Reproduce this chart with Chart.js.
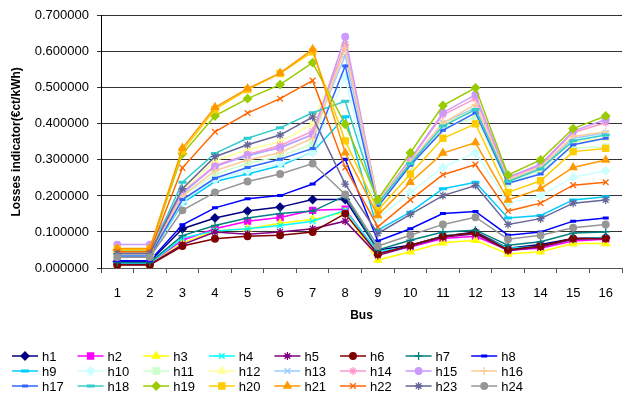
<!DOCTYPE html>
<html lang="en">
<head>
<meta charset="UTF-8">
<title>Losses indicator by bus</title>
<script src="https://cdn.jsdelivr.net/npm/chart.js"></script>
<style>
    html, body { margin: 0; padding: 0; overflow: hidden; background: #fff; }
    #chart { display: block; }
</style>
</head>
<body>
<canvas id="chart" width="629" height="397"></canvas>
<script>
    // Bus numbers (x axis)
    const buses = ['1', '2', '3', '4', '5', '6', '7', '8', '9', '10', '11', '12', '13', '14', '15', '16'];
    const yTicks = [0, 0.1, 0.2, 0.3, 0.4, 0.5, 0.6, 0.7];

    // Losses indicator per hour (€ct/kWh)
    const h1  = [0.018, 0.018, 0.109, 0.139, 0.158, 0.169, 0.190, 0.190, 0.050, 0.063, 0.088, 0.100, 0.055, 0.065, 0.082, 0.085];
    const h2  = [0.013, 0.013, 0.077, 0.109, 0.130, 0.140, 0.160, 0.163, 0.042, 0.058, 0.082, 0.088, 0.050, 0.055, 0.075, 0.080];
    const h3  = [0.010, 0.010, 0.069, 0.103, 0.109, 0.124, 0.135, 0.155, 0.022, 0.045, 0.070, 0.077, 0.039, 0.045, 0.068, 0.068];
    const h4  = [0.013, 0.013, 0.083, 0.103, 0.109, 0.118, 0.130, 0.160, 0.045, 0.060, 0.090, 0.095, 0.055, 0.060, 0.080, 0.085];
    const h5  = [0.010, 0.010, 0.065, 0.100, 0.094, 0.100, 0.109, 0.130, 0.035, 0.060, 0.085, 0.095, 0.048, 0.058, 0.080, 0.082];
    const h6  = [0.008, 0.008, 0.061, 0.081, 0.088, 0.091, 0.100, 0.151, 0.039, 0.063, 0.088, 0.098, 0.051, 0.061, 0.082, 0.082];
    const h7  = [0.015, 0.015, 0.090, 0.118, 0.139, 0.151, 0.158, 0.200, 0.050, 0.077, 0.100, 0.105, 0.063, 0.073, 0.097, 0.100];
    const h8  = [0.020, 0.020, 0.120, 0.167, 0.192, 0.201, 0.233, 0.302, 0.075, 0.109, 0.151, 0.157, 0.091, 0.100, 0.130, 0.139];
    const h9  = [0.033, 0.033, 0.180, 0.240, 0.261, 0.284, 0.322, 0.420, 0.105, 0.155, 0.220, 0.238, 0.139, 0.146, 0.189, 0.198];
    const h10 = [0.035, 0.035, 0.185, 0.245, 0.270, 0.290, 0.320, 0.530, 0.138, 0.210, 0.279, 0.320, 0.180, 0.200, 0.252, 0.270];
    const h11 = [0.038, 0.038, 0.200, 0.260, 0.290, 0.310, 0.344, 0.620, 0.175, 0.280, 0.390, 0.417, 0.235, 0.270, 0.334, 0.336];
    const h12 = [0.040, 0.040, 0.215, 0.298, 0.328, 0.350, 0.400, 0.625, 0.180, 0.285, 0.400, 0.440, 0.240, 0.275, 0.350, 0.360];
    const h13 = [0.038, 0.038, 0.205, 0.284, 0.310, 0.335, 0.370, 0.590, 0.180, 0.290, 0.403, 0.445, 0.240, 0.278, 0.360, 0.375];
    const h14 = [0.040, 0.040, 0.210, 0.284, 0.315, 0.340, 0.380, 0.620, 0.185, 0.300, 0.425, 0.470, 0.250, 0.285, 0.376, 0.403];
    const h15 = [0.065, 0.065, 0.210, 0.281, 0.314, 0.333, 0.371, 0.642, 0.185, 0.302, 0.431, 0.481, 0.252, 0.288, 0.380, 0.412];
    const h16 = [0.038, 0.038, 0.200, 0.270, 0.300, 0.320, 0.360, 0.610, 0.185, 0.295, 0.403, 0.454, 0.245, 0.280, 0.365, 0.378];
    const h17 = [0.033, 0.033, 0.190, 0.249, 0.279, 0.302, 0.332, 0.561, 0.170, 0.285, 0.382, 0.431, 0.235, 0.261, 0.342, 0.360];
    const h18 = [0.040, 0.040, 0.238, 0.318, 0.360, 0.389, 0.431, 0.463, 0.180, 0.290, 0.394, 0.440, 0.240, 0.275, 0.353, 0.369];
    const h19 = [0.050, 0.050, 0.317, 0.422, 0.470, 0.509, 0.570, 0.399, 0.190, 0.320, 0.451, 0.500, 0.258, 0.300, 0.387, 0.422];
    const h20 = [0.052, 0.052, 0.325, 0.440, 0.495, 0.540, 0.600, 0.353, 0.160, 0.261, 0.360, 0.400, 0.210, 0.242, 0.323, 0.332];
    const h21 = [0.054, 0.054, 0.333, 0.446, 0.498, 0.541, 0.607, 0.320, 0.146, 0.238, 0.319, 0.348, 0.189, 0.220, 0.279, 0.300];
    const h22 = [0.045, 0.045, 0.278, 0.378, 0.430, 0.470, 0.520, 0.279, 0.114, 0.189, 0.259, 0.287, 0.158, 0.180, 0.230, 0.238];
    const h23 = [0.040, 0.040, 0.220, 0.309, 0.342, 0.369, 0.419, 0.233, 0.096, 0.149, 0.201, 0.229, 0.121, 0.137, 0.180, 0.189];
    const h24 = [0.030, 0.030, 0.160, 0.210, 0.240, 0.261, 0.290, 0.204, 0.061, 0.091, 0.121, 0.141, 0.080, 0.091, 0.112, 0.121];

    const seriesNames = ['h1', 'h2', 'h3', 'h4', 'h5', 'h6', 'h7', 'h8', 'h9', 'h10', 'h11', 'h12',
                         'h13', 'h14', 'h15', 'h16', 'h17', 'h18', 'h19', 'h20', 'h21', 'h22', 'h23', 'h24'];
    const seriesValues = [h1, h2, h3, h4, h5, h6, h7, h8, h9, h10, h11, h12,
                          h13, h14, h15, h16, h17, h18, h19, h20, h21, h22, h23, h24];

    // Excel-like default palette and markers (marker cycle of 9)
    const colors = ['#000080', '#FF00FF', '#FFFF00', '#00FFFF', '#800080', '#800000', '#008080', '#0000FF',
                    '#00CCFF', '#CCFFFF', '#CCFFCC', '#FFFF99', '#99CCFF', '#FF99CC', '#CC99FF', '#FFCC99',
                    '#3366FF', '#33CCCC', '#99CC00', '#FFCC00', '#FF9900', '#FF6600', '#666699', '#969696'];
    const markers = ['rectRot', 'rect', 'triangle', 'crossRot', 'star', 'circle', 'cross', 'line', 'line'];
    const markerSize = { rectRot: 4, rect: 4.3, triangle: 4.2, crossRot: 4, star: 4, circle: 3.3, cross: 4, line: 3 };

    const FONT = '"Liberation Sans", Arial, sans-serif';

    const datasets = seriesNames.map((name, i) => {
        const k = i % 9;
        const style = markers[k];
        return {
            label: name,
            data: seriesValues[i],
            borderColor: colors[i],
            backgroundColor: colors[i],
            borderWidth: 1.5,
            pointStyle: style,
            pointRadius: k === 8 ? 4 : markerSize[style],
            pointBackgroundColor: colors[i],
            pointBorderColor: colors[i],
            pointBorderWidth: style === 'line' ? 3 : 1.3,
            tension: 0,
            order: 23 - i
        };
    });

    // Legend in a fixed 8-column grid, drawn on the canvas
    const gridLegend = {
        id: 'gridLegend',
        afterDraw(chart) {
            const ctx = chart.ctx;
            chart.data.datasets.forEach((ds, i) => {
                const col = i % 8, row = Math.floor(i / 8);
                const x = 12 + col * 65.6, y = 356 + row * 15;
                ctx.save();
                ctx.strokeStyle = ds.borderColor;
                ctx.lineWidth = 1.5;
                ctx.beginPath();
                ctx.moveTo(x, y);
                ctx.lineTo(x + 26, y);
                ctx.stroke();
                ctx.fillStyle = ds.pointBackgroundColor;
                ctx.strokeStyle = ds.pointBorderColor;
                ctx.lineWidth = ds.pointBorderWidth;
                Chart.helpers.drawPoint(ctx, {
                    pointStyle: ds.pointStyle,
                    radius: ds.pointRadius,
                    rotation: 0,
                    borderWidth: ds.pointBorderWidth
                }, x + 13, y);
                ctx.fillStyle = '#000';
                ctx.font = '13px ' + FONT;
                ctx.textBaseline = 'middle';
                ctx.textAlign = 'left';
                ctx.fillText(ds.label, x + 30, y + 1);
                ctx.restore();
            });
        }
    };

    new Chart(document.getElementById('chart'), {
        type: 'line',
        data: { labels: buses, datasets: datasets },
        options: {
            responsive: false,
            animation: false,
            layout: { padding: { top: 14, right: 0, bottom: 74, left: 5 } },
            plugins: {
                legend: { display: false },
                tooltip: { enabled: false }
            },
            scales: {
                x: {
                    offset: true,
                    afterFit(scale) { scale.height = 55; },
                    grid: { display: true, offset: true, drawOnChartArea: false, tickLength: 5, color: '#555' },
                    border: { color: '#555', width: 1 },
                    ticks: { color: '#000', font: { family: FONT, size: 13 }, padding: 13, maxRotation: 0, autoSkip: false },
                    title: { display: true, text: 'Bus', color: '#000', font: { family: FONT, size: 12, weight: 'bold' }, padding: { top: 6, bottom: 0 } }
                },
                y: {
                    min: 0,
                    max: 0.7,
                    afterFit(scale) { scale.width = 96; },
                    afterBuildTicks(scale) { scale.ticks = yTicks.map(v => ({ value: v })); },
                    grid: { color: '#333', lineWidth: 1, tickLength: 4 },
                    border: { color: '#000', width: 1 },
                    ticks: {
                        color: '#000',
                        font: { family: FONT, size: 13 },
                        padding: 8,
                        callback: v => v.toFixed(6)
                    },
                    title: { display: true, text: 'Losses indicator(€ct/kWh)', color: '#000', font: { family: FONT, size: 12, weight: 'bold' }, padding: { top: 4, bottom: 0 } }
                }
            }
        },
        plugins: [gridLegend]
    });
</script>
</body>
</html>
